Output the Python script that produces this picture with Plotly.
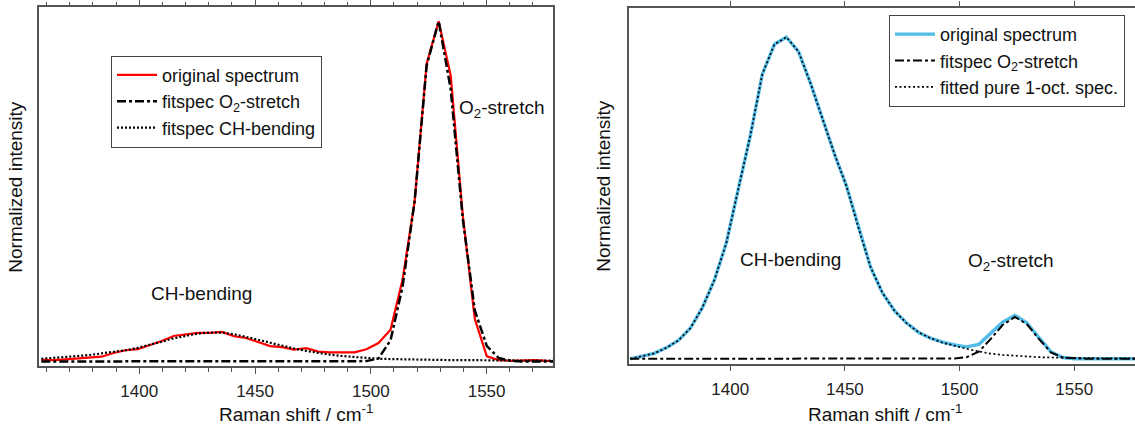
import plotly.graph_objects as go

# ---------------- data: left panel ----------------
x_left = [1357.7, 1362.9, 1368.1, 1373.3, 1378.5, 1383.7, 1388.9, 1394.1, 1399.3, 1404.5,
          1409.7, 1414.9, 1420.1, 1425.3, 1430.5, 1435.7, 1440.9, 1446.1, 1451.3, 1456.5,
          1461.7, 1466.9, 1472.1, 1477.3, 1482.5, 1487.7, 1492.9, 1498.1, 1503.3, 1508.5,
          1513.7, 1518.9, 1524.1, 1529.3, 1534.5, 1539.7, 1544.9, 1550.1, 1555.3, 1560.5,
          1565.7, 1570.9, 1576.1, 1581.3]
orig_left = [0.005, 0.004, 0.006, 0.009, 0.011, 0.014, 0.025, 0.033, 0.036, 0.047,
             0.060, 0.075, 0.080, 0.084, 0.084, 0.087, 0.074, 0.069, 0.057, 0.045,
             0.042, 0.035, 0.039, 0.029, 0.027, 0.027, 0.027, 0.036, 0.054, 0.093,
             0.240, 0.470, 0.875, 1.000, 0.840, 0.430, 0.125, 0.015, 0.004, 0.002,
             0.003, 0.004, 0.002, 0.001]
o2_left = [0.0, 0.0, 0.0, 0.0, 0.0, 0.0, 0.0, 0.0, 0.0, 0.0,
           0.0, 0.0, 0.0, 0.0, 0.0, 0.0, 0.0, 0.0, 0.0, 0.0,
           0.0, 0.0, 0.0, 0.0, 0.0, 0.0, 0.0, 0.001, 0.009, 0.062,
           0.220, 0.470, 0.870, 1.000, 0.800, 0.420, 0.150, 0.045, 0.010, 0.002,
           0.0, 0.0, 0.0, 0.0]
ch_left = [0.008, 0.010, 0.013, 0.016, 0.019, 0.023, 0.028, 0.033, 0.040, 0.048,
           0.058, 0.068, 0.076, 0.082, 0.085, 0.085, 0.080, 0.073, 0.064, 0.055,
           0.046, 0.038, 0.031, 0.025, 0.020, 0.016, 0.013, 0.010, 0.008, 0.007,
           0.006, 0.006, 0.005, 0.005, 0.004, 0.004, 0.004, 0.003, 0.003, 0.003,
           0.002, 0.002, 0.002, 0.002]

# ---------------- data: right panel ----------------
x_right = [1356.4, 1361.6, 1366.9, 1372.1, 1377.4, 1382.6, 1387.8, 1393.1, 1398.3, 1403.6,
           1408.8, 1414.0, 1419.3, 1424.5, 1429.8, 1435.0, 1440.2, 1445.5, 1450.7, 1456.0,
           1461.2, 1466.4, 1471.7, 1476.9, 1482.2, 1487.4, 1492.6, 1497.9, 1503.1, 1508.4,
           1513.6, 1518.8, 1524.1, 1529.3, 1534.6, 1539.8, 1545.0, 1550.3, 1555.5, 1560.8,
           1566.0, 1571.2, 1576.5, 1581.7]
orig_right = [0.000, 0.008, 0.017, 0.034, 0.057, 0.095, 0.158, 0.245, 0.360, 0.530,
              0.695, 0.885, 0.978, 1.000, 0.955, 0.857, 0.745, 0.636, 0.537, 0.405,
              0.285, 0.205, 0.149, 0.111, 0.082, 0.064, 0.052, 0.043, 0.037, 0.045,
              0.078, 0.114, 0.135, 0.112, 0.066, 0.022, 0.004, 0.000, 0.000, 0.000,
              0.000, 0.000, 0.000, 0.000]
o2_right = [0.0, 0.0, 0.0, 0.0, 0.0, 0.0, 0.0, 0.0, 0.0, 0.0,
            0.0, 0.0, 0.0, 0.0, 0.0, 0.0, 0.0, 0.0, 0.0, 0.0,
            0.0, 0.0, 0.0, 0.0, 0.0, 0.0, 0.0, 0.001, 0.005, 0.022,
            0.062, 0.105, 0.130, 0.108, 0.062, 0.020, 0.004, 0.001, 0.0, 0.0,
            0.0, 0.0, 0.0, 0.0]
pure_right = [0.000, 0.008, 0.017, 0.034, 0.057, 0.095, 0.158, 0.245, 0.360, 0.530,
              0.695, 0.885, 0.978, 1.000, 0.955, 0.857, 0.745, 0.636, 0.537, 0.405,
              0.285, 0.205, 0.149, 0.111, 0.082, 0.064, 0.050, 0.040, 0.031, 0.023,
              0.016, 0.012, 0.009, 0.007, 0.005, 0.004, 0.003, 0.002, 0.002, 0.001,
              0.001, 0.001, 0.001, 0.001]

tick_vals = [1400, 1450, 1500, 1550]
tick_text = ["1400", "1450", "1500", "1550"]

W, H = 1135, 426
FONT = "Arial, Liberation Sans, sans-serif"
AX = "#555555"
DASHDOT = "9px,3px,3px,3px"
DOT = "2px,2px"
DOT_R = "2px,2.5px"


def px(xp):
    return xp / W


def py(yp):
    return 1 - yp / H


fig = go.Figure()

# left panel traces
fig.add_trace(go.Scatter(x=x_left, y=orig_left, mode="lines", name="original spectrum",
                         line=dict(color="#ff0000", width=2.2), xaxis="x", yaxis="y",
                         legend="legend", legendgroup="a"))
fig.add_trace(go.Scatter(x=x_left, y=o2_left, mode="lines", name="fitspec O<sub>2</sub>-stretch",
                         line=dict(color="black", width=2.5, dash=DASHDOT), xaxis="x", yaxis="y",
                         legend="legend", legendgroup="b"))
fig.add_trace(go.Scatter(x=x_left, y=ch_left, mode="lines", name="fitspec CH-bending",
                         line=dict(color="black", width=2.2, dash=DOT), xaxis="x", yaxis="y",
                         legend="legend", legendgroup="c"))

# right panel traces
fig.add_trace(go.Scatter(x=x_right, y=orig_right, mode="lines", name="original spectrum",
                         line=dict(color="#52bce8", width=3.4), xaxis="x2", yaxis="y2",
                         legend="legend2", legendgroup="d"))
fig.add_trace(go.Scatter(x=x_right, y=o2_right, mode="lines", name="fitspec O<sub>2</sub>-stretch",
                         line=dict(color="black", width=2, dash=DASHDOT), xaxis="x2", yaxis="y2",
                         legend="legend2", legendgroup="e"))
fig.add_trace(go.Scatter(x=x_right, y=pure_right, mode="lines", name="fitted pure 1-oct. spec.",
                         line=dict(color="black", width=1.7, dash=DOT_R), xaxis="x2", yaxis="y2",
                         legend="legend2", legendgroup="f"))

common_x = dict(
    tickmode="array", tickvals=tick_vals, ticktext=tick_text,
    showline=True, linecolor=AX, linewidth=1.5, mirror="ticks",
    ticks="outside", ticklen=6, tickwidth=1.2, tickcolor=AX,
    showgrid=False, zeroline=False,
    tickfont=dict(family=FONT, size=17, color="#222222"),
    ticklabelstandoff=3,
)

legend_common = dict(xanchor="left", yanchor="top",
                     bordercolor="#444444", borderwidth=1, bgcolor="white",
                     font=dict(family=FONT, size=18, color="#111111"),
                     tracegroupgap=0, itemwidth=40)

fig.update_layout(
    width=W, height=H,
    margin=dict(l=0, r=0, t=0, b=0),
    paper_bgcolor="white", plot_bgcolor="white",
    font=dict(family=FONT, color="#111111"),
    xaxis=dict(domain=[px(39), px(553.3)], range=[1356.7, 1578.8], anchor="y",
               minor=dict(dtick=10, tick0=1400, ticks="outside", ticklen=4, tickcolor=AX, tickwidth=1.2),
               **common_x),
    yaxis=dict(domain=[py(365.7), py(4.3)], range=[-0.0137, 1.041], anchor="x",
               showline=True, linecolor=AX, linewidth=1.5, mirror=True,
               showticklabels=False, ticks="", showgrid=False, zeroline=False),
    xaxis2=dict(domain=[px(629.3), 1.0], range=[1356.0, 1576.5], anchor="y2", **common_x),
    yaxis2=dict(domain=[py(363.3), py(5.3)], range=[-0.0154, 1.09], anchor="x2",
                showline=True, linecolor=AX, linewidth=1.5, mirror=False,
                showticklabels=False, ticks="", showgrid=False, zeroline=False),
    legend=dict(x=px(111), y=py(53), **legend_common),
    legend2=dict(x=px(889), y=py(12), **legend_common),
    showlegend=True,
)

ann_font = dict(family=FONT, size=19, color="#111111")
title_font = dict(family=FONT, size=19, color="#111111")

annotations = [
    # in-plot labels
    dict(x=1426.8, y=0.20, xref="x", yref="y", text="CH-bending", showarrow=False, font=ann_font),
    dict(x=1556.5, y=0.742, xref="x", yref="y", text="O<sub>2</sub>-stretch", showarrow=False, font=ann_font),
    dict(x=1426.2, y=0.309, xref="x2", yref="y2", text="CH-bending", showarrow=False, font=ann_font),
    dict(x=1522.6, y=0.301, xref="x2", yref="y2", text="O<sub>2</sub>-stretch", showarrow=False, font=ann_font),
    # axis titles
    dict(x=px(296), y=py(412.5), xref="paper", yref="paper", text="Raman shift / cm<sup>-1</sup>",
         showarrow=False, font=title_font, xanchor="center", yanchor="middle"),
    dict(x=px(885), y=py(412.5), xref="paper", yref="paper", text="Raman shift / cm<sup>-1</sup>",
         showarrow=False, font=title_font, xanchor="center", yanchor="middle"),
    dict(x=px(16), y=py(185), xref="paper", yref="paper", text="Normalized intensity",
         showarrow=False, font=title_font, textangle=-90, xanchor="center", yanchor="middle"),
    dict(x=px(604), y=py(184), xref="paper", yref="paper", text="Normalized intensity",
         showarrow=False, font=title_font, textangle=-90, xanchor="center", yanchor="middle"),
]
fig.update_layout(annotations=annotations)

fig.write_html("out.html")
